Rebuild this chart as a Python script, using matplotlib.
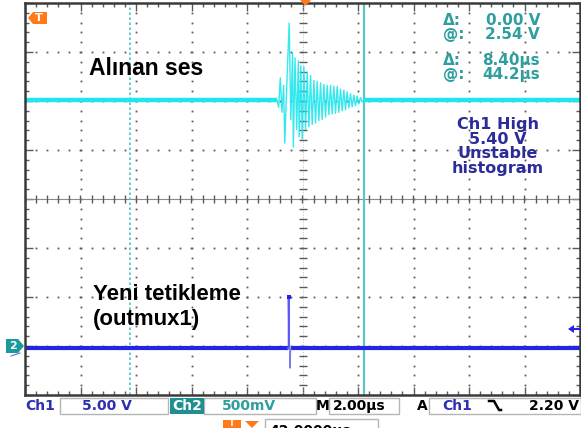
import numpy as np
import matplotlib.pyplot as plt
from matplotlib.patches import Rectangle, Polygon

# time base 2 us/div, trigger point at 42 us in the middle of the screen
t_start, t_end = 32.0, 52.0
ch1_level = 2.02     # divisions above centre
ch2_level = -3.05

# Ch1 (received sound) burst: time (us), deviation (div)
burst_t = [41.08, 41.14, 41.20, 41.26, 41.32, 41.36, 41.44, 41.52, 41.58, 41.64,
           41.67, 41.73, 41.79, 41.85, 41.88, 41.94, 41.99, 42.05, 42.11, 42.17,
           42.23, 42.29, 42.35, 42.41, 42.47, 42.53, 42.59, 42.65, 42.71, 42.77,
           42.83, 42.89, 42.95, 43.01, 43.07, 43.13, 43.19, 43.25, 43.31, 43.37,
           43.43, 43.49, 43.55, 43.61, 43.67, 43.73, 43.79, 43.85, 43.91, 43.97,
           44.03, 44.09, 44.15, 44.21]
burst_v = [0.00, -0.15, 0.45, -0.25, 0.30, -0.88, 0.40, 1.57, -0.40, 0.96,
           -0.96, 0.86, -0.60, 0.80, -0.75, 0.70, -0.80, 0.68, -0.60, 0.57,
           -0.55, 0.50, -0.50, 0.40, -0.47, 0.38, -0.42, 0.35, -0.40, 0.32,
           -0.35, 0.30, -0.30, 0.30, -0.28, 0.28, -0.27, 0.28, -0.25, 0.22,
           -0.22, 0.20, -0.20, 0.17, -0.16, 0.13, -0.14, 0.10, -0.12, 0.08,
           -0.08, 0.05, -0.04, 0.00]

# Ch2 (new trigger, outmux1) pulse
pulse_t = [41.47, 41.50, 41.50, 41.52]
pulse_v = [0.00, 0.00, 1.06, 0.00]
dip_t = [41.54, 41.55, 41.55, 41.57]
dip_v = [0.00, 0.00, -0.40, 0.00]

# cursors
cursor1_t = 35.8
cursor2_t = 44.2

cursor_lines = [("\u0394:", "0.00 V"), ("@:", "2.54 V"),
                ("\u0394:", "8.40\u00b5s"), ("@:", "44.2\u00b5s")]
meas_lines = ["Ch1 High", "5.40 V", "Unstable", "histogram"]

W, H = 581, 428
fig = plt.figure(figsize=(W / 100, H / 100), dpi=100)
fig.patch.set_facecolor("white")

L, R, T, B = 25, 580, 3, 395
ax = fig.add_axes([L / W, 1 - B / H, (R - L) / W, (B - T) / H])
ax.set_xlim(t_start, t_end)
ax.set_ylim(-4, 4)
ax.set_facecolor("white")

# graticule
grid_c = "#5a5a5a"
xmaj = np.arange(t_start, t_end + 0.01, 2.0)
ymaj = np.arange(-4, 4.01, 1.0)
xmin = np.arange(t_start, t_end + 0.01, 0.4)
ymin = np.arange(-4, 4.01, 0.2)
for x in xmaj[1:-1]:
    if abs(x - 42) < 0.01:
        continue
    ax.plot(np.full_like(ymin, x), ymin, ls="none", marker="s", ms=1.3, color=grid_c, mew=0)
for y in ymaj[1:-1]:
    if abs(y) < 0.01:
        continue
    ax.plot(xmin, np.full_like(xmin, y), ls="none", marker="s", ms=1.3, color=grid_c, mew=0)
ax.axhline(0, color="#8a8a8a", lw=0.8)
ax.plot(xmin, np.zeros_like(xmin), ls="none", marker="|", ms=6, color=grid_c, mew=1.0)
ax.axvline(42, color="#b0b0b0", lw=0.6, ls=(0, (1, 2)))
ax.plot(np.full_like(ymin, 42), ymin, ls="none", marker="_", ms=6, color=grid_c, mew=1.0)

ax.set_xticks(xmaj)
ax.set_yticks(ymaj)
ax.set_xticks(xmin, minor=True)
ax.set_yticks(ymin, minor=True)
ax.tick_params(which="both", direction="in", top=True, right=True,
               labelbottom=False, labelleft=False, color=grid_c)
ax.tick_params(which="major", length=6, width=1)
ax.tick_params(which="minor", length=3, width=1)
for s in ax.spines.values():
    s.set_color("#3a3a3a")
    s.set_linewidth(1.8)

# cursors
ax.axvline(cursor1_t, color="#4cc4c4", lw=1.2, ls=(0, (1.5, 1.5)))
ax.axvline(cursor2_t, color="#5cc6c6", lw=1.6)

# Ch1 trace
cyan = "#1ee6ee"
ax.plot([t_start, burst_t[0]], [ch1_level, ch1_level], color=cyan, lw=3.2, solid_capstyle="butt")
ax.plot([burst_t[-1], t_end], [ch1_level, ch1_level], color=cyan, lw=3.2, solid_capstyle="butt")
ax.plot(burst_t, np.array(burst_v) + ch1_level, color=cyan, lw=1.0, alpha=0.9)

# Ch2 trace
blue = "#2424e6"
ax.plot([t_start, pulse_t[0]], [ch2_level, ch2_level], color=blue, lw=3.0, solid_capstyle="butt")
ax.plot([dip_t[-1], t_end], [ch2_level, ch2_level], color=blue, lw=3.0, solid_capstyle="butt")
ax.plot(pulse_t, np.array(pulse_v) + ch2_level, color="#5a5af0", lw=1.3)
ax.plot(dip_t, np.array(dip_v) + ch2_level, color="#7a7af0", lw=1.0)
ax.plot([pulse_t[1]], [pulse_v[2] + ch2_level], marker="s", ms=3, color=blue, mew=0)

# overlay in pixel coordinates for the screen annotations
ov = fig.add_axes([0, 0, 1, 1], facecolor="none")
ov.set_xlim(0, W)
ov.set_ylim(H, 0)
ov.axis("off")

lab = dict(family="Liberation Sans", weight="bold", color="black", va="center")
ov.text(89, 68, "Al\u0131nan ses", fontsize=16.5, **lab)
ov.text(93, 295, "Yeni tetikleme", fontsize=16, **lab)
ov.text(93, 319, "(outmux1)", fontsize=16, **lab)

teal = "#2e9e9e"
ro = dict(family="DejaVu Sans", weight="bold", color=teal, va="center", fontsize=11)
for (k, v), y in zip(cursor_lines, [20, 34, 60, 74]):
    ov.text(443, y, k, ha="left", **ro)
    ov.text(540, y, v, ha="right", **ro)

navy = "#2b2b99"
for s, y in zip(meas_lines, [124, 139, 154, 169]):
    ov.text(498, y, s, ha="center", va="center", fontsize=11.5, weight="bold",
            family="DejaVu Sans", color=navy)

# markers on the screen edge
orange = "#ff7a1a"
ov.add_patch(Polygon([[28, 18], [33, 12], [47, 12], [47, 24], [33, 24]], closed=True,
                     facecolor=orange, edgecolor="none"))
ov.text(39, 18, "T", color="white", fontsize=8, weight="bold", ha="center", va="center")
ov.add_patch(Polygon([[300, 0], [311, 0], [305.5, 6]], closed=True, facecolor=orange, edgecolor="none"))
ov.add_patch(Polygon([[6, 339], [18, 339], [24, 346], [18, 353], [6, 353]], closed=True,
                     facecolor="#1a9a9a", edgecolor="none"))
ov.text(13, 346, "2", color="white", fontsize=8, weight="bold", ha="center", va="center")
ov.plot([11, 20], [356, 353], color="#6a6ad0", lw=0.8)
ov.add_patch(Polygon([[568, 329], [574, 325], [574, 333]], closed=True, facecolor=blue, edgecolor="none"))
ov.plot([572, 581], [329, 329], color=blue, lw=1.5)

# bottom status bar
box = dict(facecolor="white", edgecolor="#b5b5b5", lw=1.0)
bar = dict(family="DejaVu Sans", weight="bold", fontsize=10, va="center")
ov.add_patch(Rectangle((60, 398), 108, 16, **box))
ov.add_patch(Rectangle((204, 398), 112, 16, **box))
ov.add_patch(Rectangle((329, 398), 70, 16, **box))
ov.add_patch(Rectangle((429, 398), 152, 16, **box))
ov.add_patch(Rectangle((170, 398), 34, 16, facecolor="#1f8f8f", edgecolor="none"))
ov.text(25, 406, "Ch1", color="#2e2eb0", ha="left", **bar)
ov.text(82, 406, "5.00 V", color="#2e2eb0", ha="left", **bar)
ov.text(187, 406, "Ch2", color="white", ha="center", **bar)
ov.text(222, 406, "500mV", color=teal, ha="left", **bar)
ov.text(316, 406, "M", color="black", ha="left", **bar)
ov.text(333, 406, "2.00\u00b5s", color="black", ha="left", **bar)
ov.text(417, 406, "A", color="black", ha="left", **bar)
ov.text(442, 406, "Ch1", color="#2e2eb0", ha="left", **bar)
ov.plot([489, 494, 499, 501], [401, 401, 410, 410], color="black", lw=1.8)
ov.text(579, 406, "2.20 V", color="black", ha="right", **bar)

ov.add_patch(Rectangle((265, 419), 113, 14, **box))
ov.add_patch(Rectangle((223, 420), 18, 10, facecolor=orange, edgecolor="none"))
ov.text(232, 424, "T", color="white", fontsize=6, weight="bold", ha="center", va="center")
ov.add_patch(Polygon([[245, 421], [259, 421], [252, 428]], closed=True, facecolor=orange, edgecolor="none"))
ov.text(269, 431, "42.0000\u00b5s", color="black", ha="left", family="DejaVu Sans",
        weight="bold", fontsize=10, va="center")

fig.savefig("out.png", dpi=100)
